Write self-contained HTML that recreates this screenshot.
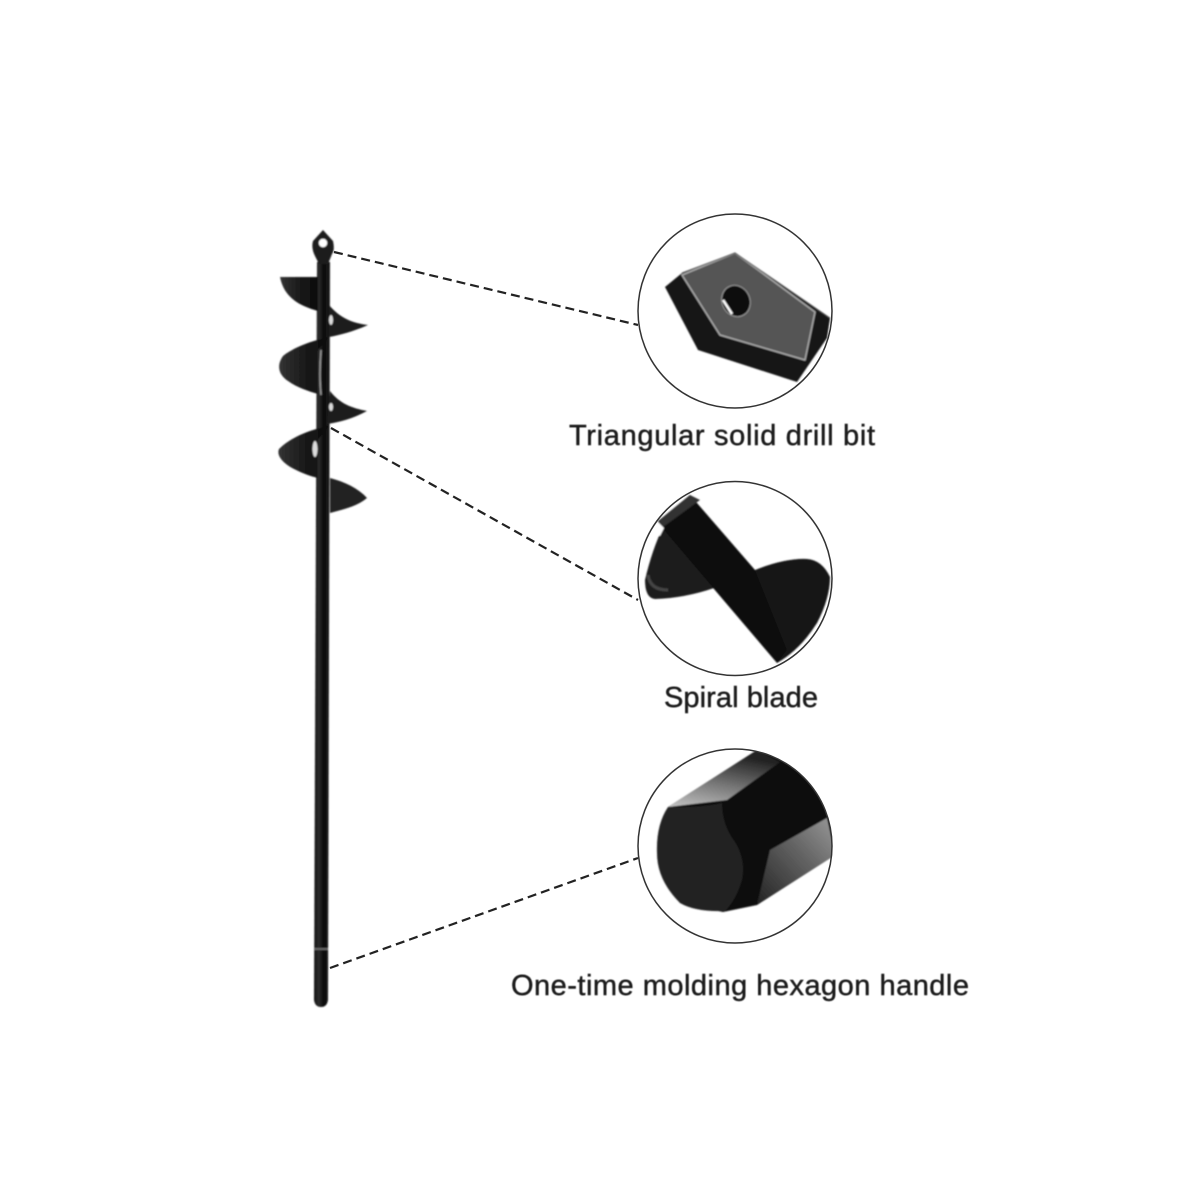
<!DOCTYPE html>
<html><head><meta charset="utf-8"><style>
html,body{margin:0;padding:0;background:#fff;width:1200px;height:1200px;overflow:hidden}
svg{display:block}
text{font-family:"Liberation Sans",sans-serif;font-size:29px;fill:#1c1c1c;stroke:#1c1c1c;stroke-width:.45px}
</style></head><body>
<svg width="1200" height="1200" viewBox="0 0 1200 1200" xmlns="http://www.w3.org/2000/svg">
<defs>
<filter id="b" x="-5%" y="-5%" width="110%" height="110%"><feGaussianBlur stdDeviation="0.7"/></filter>
<filter id="t" x="-5%" y="-20%" width="110%" height="140%"><feGaussianBlur stdDeviation="0.4"/></filter>
<linearGradient id="sh" x1="0" x2="1" y1="0" y2="0"><stop offset="0" stop-color="#111"/><stop offset=".3" stop-color="#2c2c2c"/><stop offset=".6" stop-color="#0a0a0a"/><stop offset="1" stop-color="#1c1c1c"/></linearGradient>
<linearGradient id="bl" x1="0" x2="1" y1="0" y2="0"><stop offset="0" stop-color="#333"/><stop offset=".6" stop-color="#161616"/><stop offset="1" stop-color="#0c0c0c"/></linearGradient>
<linearGradient id="top" x1="0" y1="1" x2=".4" y2="0"><stop offset="0" stop-color="#c4c4c4"/><stop offset=".5" stop-color="#777"/><stop offset="1" stop-color="#222"/></linearGradient>
<linearGradient id="low" x1="0" y1="1" x2="1" y2="0"><stop offset="0" stop-color="#222"/><stop offset=".6" stop-color="#666"/><stop offset="1" stop-color="#999"/></linearGradient>
<clipPath id="c1"><circle cx="735" cy="311" r="97"/></clipPath>
<clipPath id="c2"><circle cx="735" cy="578.500" r="97"/></clipPath>
<clipPath id="c3"><circle cx="735" cy="846" r="97"/></clipPath>
</defs>

<!-- dashed connectors -->
<g stroke="#222" stroke-width="2.200" stroke-dasharray="9 5" fill="none">
<path d="M334 252L638 325"/>
<path d="M331 428L638 600"/>
<path d="M330 968L638 858"/>
</g>

<!-- auger -->
<g filter="url(#b)">
<path d="M317 262H330L328 1000Q327 1007 321 1007Q315 1007 314 1000Z" fill="url(#sh)"/>
<path d="M323 230L333 241Q335 250 332 254L328 264H319L315 256Q311 248 313 241Z" fill="#1c1c1c"/>
<circle cx="323" cy="243" r="4.200" fill="#fff"/>
<path d="M280 277H318V311C300 306 284 298 280 277Z" fill="url(#bl)"/>
<path d="M329 305C340 318 352 323 368 325C352 332 340 335 329 337Z" fill="#1e1e1e"/>
<path d="M329 337C306 342 290 350 283 356C276 366 279 375 288 381C298 388 308 391 318 394V350Z" fill="url(#bl)"/>
<path d="M330 391C340 404 352 408 367 411C352 419 340 422 327 424Z" fill="#1e1e1e"/>
<path d="M329 426C308 430 290 438 279 449C276 456 284 464 294 469C304 474 310 476 318 478V440Z" fill="url(#bl)"/>
<path d="M330 478C345 482 358 488 367 498C356 507 344 509 330 513Z" fill="#222"/>
<ellipse cx="331" cy="320" rx="2" ry="5" fill="#ddd"/>
<ellipse cx="331" cy="407" rx="2" ry="4" fill="#ddd"/>
<ellipse cx="315" cy="449" rx="2.500" ry="8" fill="#ddd"/>
<path d="M321 350Q319 375 321 395" stroke="#999" stroke-width="1.500" fill="none"/>
<path d="M314 949H328" stroke="#666" stroke-width="2"/>
</g>

<!-- circle 1: bit -->
<g filter="url(#b)" clip-path="url(#c1)">
<path d="M665 287L682 273L735 253L830 318L827 338L797 382L698 350Z" fill="#161616"/>
<path d="M682 275L735 253L815 312L805 360L720 335Z" fill="#555" stroke="#aaa" stroke-width="1.500" stroke-linejoin="round"/>
<path d="M682 273L735 253L830 318" fill="none" stroke="#555" stroke-width="1"/>
<ellipse cx="736" cy="301" rx="14" ry="16" transform="rotate(-25 736 301)" fill="#0c0c0c" stroke="#999" stroke-width="1"/>
<path d="M723 300L732 314" stroke="#fff" stroke-width="2.500"/>
</g>

<!-- circle 2: spiral blade -->
<g filter="url(#b)" clip-path="url(#c2)">
<path d="M663 527Q652 550 645 580Q645 598 655 599Q685 598 714 588L700 530Z" fill="#1a1a1a"/>
<path d="M755 570Q785 558 807 559Q822 560 830 577Q830 598 817 623Q800 650 777 663L745 580Z" fill="#171717"/>
<path d="M657 522L690 495L755 570L787 650L777 663Z" fill="#0d0d0d"/>
<path d="M663 527L657 522L690 495L700 500Z" fill="#333"/>
<path d="M657 521L664 528L660 536L651 530Z" fill="#fff"/>
<path d="M648 575Q650 590 668 590" stroke="#444" stroke-width="3" fill="none"/>
</g>

<!-- circle 3: handle -->
<g filter="url(#b)" clip-path="url(#c3)">
<path d="M668 807L757 750L835 760V855L757 905L723 912L680 903L657 853Z" fill="#0c0c0c"/>
<path d="M668 807L757 750L780 762L727 800Z" fill="url(#top)"/>
<path d="M770 850L827 818L835 855L757 905Z" fill="url(#low)"/>
<path d="M668 807Q700 808 722 803Q722 825 735 842Q746 860 742 880Q736 900 725 911Q695 912 680 903Q657 880 657 853Q656 825 668 807Z" fill="#232323"/>
</g>

<!-- circle outlines -->
<g fill="none" stroke="#333" stroke-width="1.500">
<circle cx="735" cy="311" r="97"/>
<circle cx="735" cy="578.500" r="97"/>
<circle cx="735" cy="846" r="97"/>
</g>

<!-- labels -->
<g filter="url(#t)">
<text x="569" y="445" textLength="306" lengthAdjust="spacing">Triangular solid drill bit</text>
<text x="664" y="707" textLength="154" lengthAdjust="spacing">Spiral blade</text>
<text x="511" y="995" textLength="458" lengthAdjust="spacing">One-time molding hexagon handle</text>
</g>
</svg>
</body></html>
